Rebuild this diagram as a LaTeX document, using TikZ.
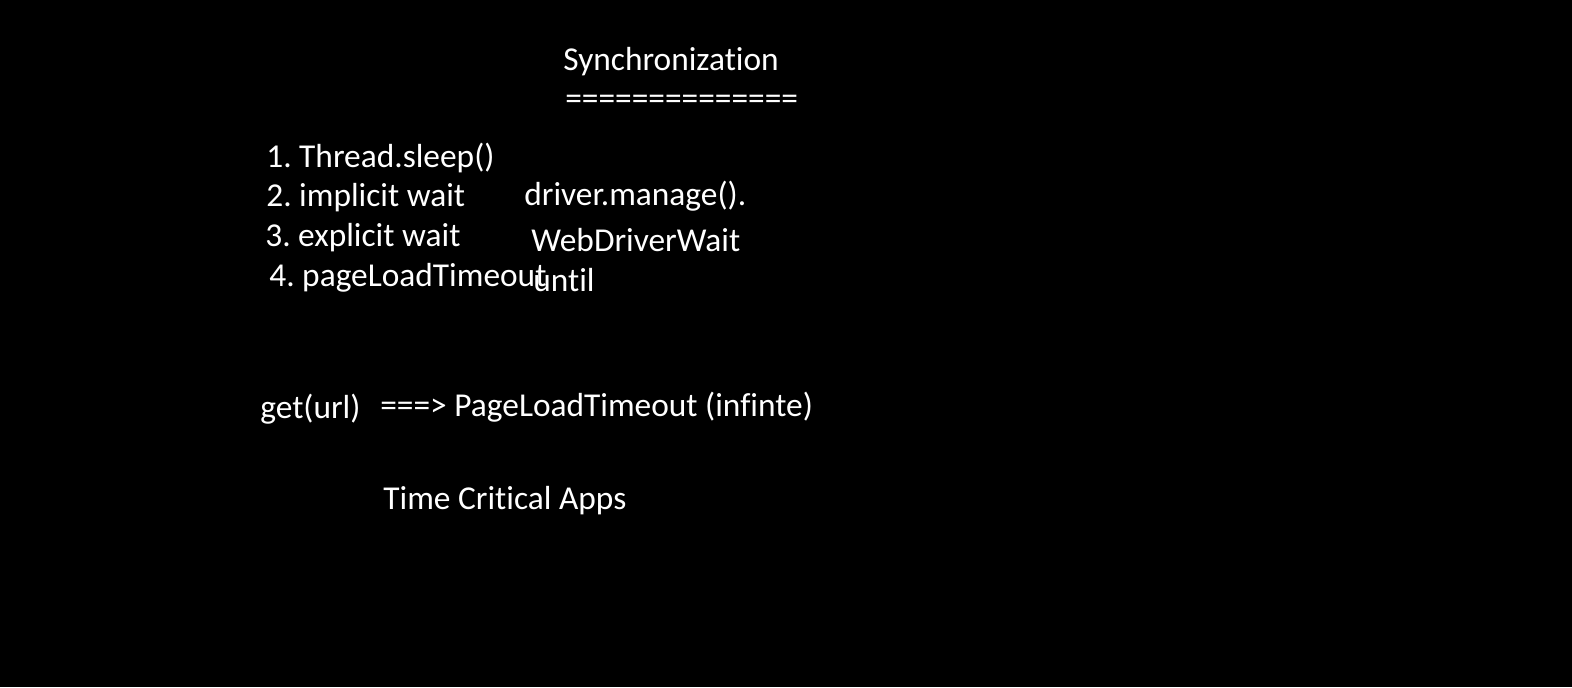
\documentclass[tikz,border=0pt]{standalone}
\usepackage{fontspec}
\setmainfont{Carlito}[RawFeature=-liga]
\usetikzlibrary{positioning}
\frenchspacing

\begin{document}
\begin{tikzpicture}[
    x=0.02cm, y=-0.02cm,
    textnode/.style={text=white, inner sep=0pt, anchor=base west, font=\fontsize{19}{23}\selectfont}
]
\fill[black] (0,0) rectangle (1572,687);
\useasboundingbox (0,0) rectangle (1572,687);

\node[textnode](title) at (563,70){Synchronization};
\node[textnode](title_line) at (565,109){==============};

\node[textnode](item_1) at (266,167){1. Thread.sleep()};
\node[textnode](item_2) at (266,206){2. implicit wait};
\node[textnode](item_3) at (265,246){3. explicit wait};
\node[textnode](item_4) at (269,286){4. pageLoadTimeout};

\node[textnode](impl) at (524,205){driver.manage().};
\node[textnode](expl) at (531,251){WebDriverWait};
\node[textnode](until) at (533,291){until};

\node[textnode](get) at (260,418){get(url)};
\node[textnode](plt) at (380,416){===> PageLoadTimeout (infinte)};

\node[textnode](apps) at (383,509){Time Critical Apps};
\end{tikzpicture}
\end{document}
